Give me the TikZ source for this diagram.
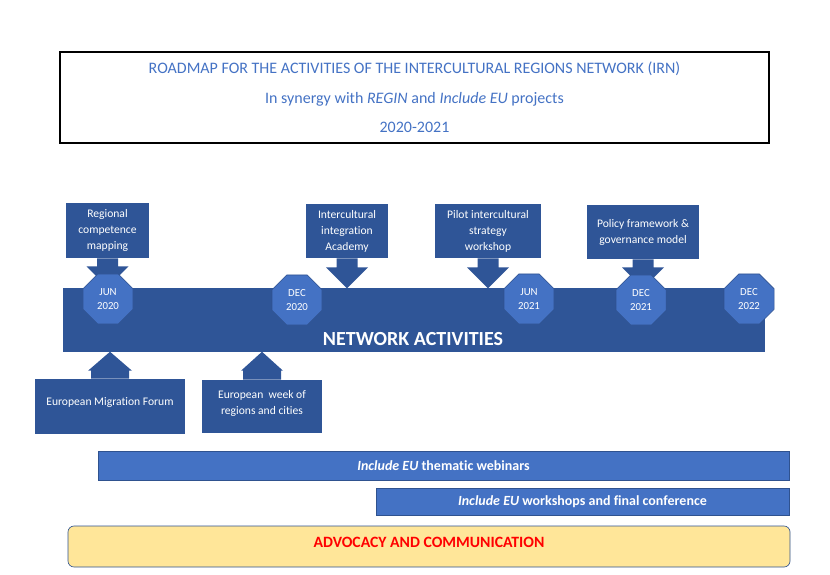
\documentclass[tikz,border=0pt]{standalone}
\usepackage{fontspec}
\setmainfont{Carlito}[Ligatures=NoCommon]
\usepackage{tikz}
\usetikzlibrary{shapes.geometric}

\definecolor{irnblue}{RGB}{47,85,151}
\definecolor{irnlight}{RGB}{68,114,196}
\definecolor{irnedge}{RGB}{47,82,143}
\definecolor{irnyellow}{RGB}{255,230,153}

\tikzset{
  callout/.style={fill=irnblue, text=white, align=center, inner sep=0pt,
    font=\fontsize{8.7}{12}\selectfont},
  datebox/.style={regular polygon, regular polygon sides=8, minimum size=40.6pt,
    inner sep=0pt, fill=irnlight, draw=irnedge, line width=0.4pt, text=white,
    align=center, font=\fontsize{8.1}{10.5}\selectfont},
  stripe/.style={fill=irnlight, draw=irnedge, line width=0.5pt, text=white,
    inner sep=0pt, font=\bfseries\fontsize{10.5}{12}\selectfont},
  blkarrow/.style={fill=irnblue}
}

\begin{document}
\begin{tikzpicture}[x=0.75pt,y=0.75pt,yscale=-1,xscale=1]
\useasboundingbox (0,0) rectangle (830,574);

%Shape: Rectangle [title]
\node[draw=black, line width=1.1pt, minimum width=531.75pt, minimum height=68.25pt,
  inner sep=0pt, align=center, text=irnlight, font=\fontsize{12}{22}\selectfont]
  (title) at (414.5,97.5)
  {ROADMAP FOR THE ACTIVITIES OF THE INTERCULTURAL REGIONS NETWORK (IRN)\\
   In synergy with \textit{REGIN} and \textit{Include EU} projects\\
   2020-2021};

%Shape: Rectangle [network bar]
\node[fill=irnblue, minimum width=526.5pt, minimum height=48pt, inner sep=0pt] (bar) at (414,320) {};
% Text Node
\node[text=white, inner sep=0pt, font=\bfseries\fontsize{15}{18}\selectfont] (barlabel) at (413,339) {NETWORK ACTIVITIES};

%Shape: Rectangle [callouts above]
\node[callout, minimum width=62.25pt, minimum height=41.25pt] (regional) at (107.5,230.5) {Regional\\competence\\mapping};
\node[callout, minimum width=61.5pt, minimum height=40.5pt] (academy) at (347,231) {Intercultural\\integration\\Academy};
\node[callout, minimum width=79.5pt, minimum height=40.5pt] (pilot) at (488,231) {Pilot intercultural\\strategy\\workshop};
\node[callout, minimum width=84pt, minimum height=40.5pt] (policy) at (643,232) {Policy framework \&\\governance model};

%Shape: Rectangle [callouts below]
\node[callout, minimum width=112.5pt, minimum height=41.25pt, text depth=7.5pt] (migration) at (110,406.5) {European Migration Forum};
\node[callout, minimum width=90pt, minimum height=39.75pt, text depth=6.5pt] (euweek) at (262,406.5) {European\ \ week of\\regions and cities};

%Shape: Block Arrow [down]
\fill[blkarrow] (regional.south) ++(-10.5,0) -- ++(0,8) -- ++(-10.5,0) -- ++(21,21) -- ++(21,-21) -- ++(-10.5,0) -- ++(0,-8) -- cycle;
\fill[blkarrow] (academy.south) ++(-10.5,0) -- ++(0,9) -- ++(-10.5,0) -- ++(21,21) -- ++(21,-21) -- ++(-10.5,0) -- ++(0,-9) -- cycle;
\fill[blkarrow] (pilot.south) ++(-10.5,0) -- ++(0,9) -- ++(-10.5,0) -- ++(21,21) -- ++(21,-21) -- ++(-10.5,0) -- ++(0,-9) -- cycle;
\fill[blkarrow] (policy.south) ++(-10.5,0) -- ++(0,8) -- ++(-10.5,0) -- ++(21,21) -- ++(21,-21) -- ++(-10.5,0) -- ++(0,-8) -- cycle;

%Shape: Block Arrow [up]
\fill[blkarrow] (migration.north) ++(-19,0) -- ++(0,-8) -- ++(-3,0) -- ++(22,-19) -- ++(22,19) -- ++(-3,0) -- ++(0,8) -- cycle;
\fill[blkarrow] (euweek.north) ++(-19,0) -- ++(0,-9) -- ++(-2,0) -- ++(21,-19) -- ++(21,19) -- ++(-2,0) -- ++(0,9) -- cycle;

%Shape: Octagon [dates]
\node[datebox] (jun20) at (108,299) {JUN\\2020};
\node[datebox] (dec20) at (297,300) {DEC\\2020};
\node[datebox] (jun21) at (529,299) {JUN\\2021};
\node[datebox] (dec21) at (641,300) {DEC\\2021};
\node[datebox] (dec22) at (749,299) {DEC\\2022};

%Shape: Rectangle [Include EU]
\node[stripe, minimum width=518.25pt, minimum height=21.75pt] (webinars) at (443.5,465.5) {\textit{Include EU} thematic webinars};
\node[stripe, minimum width=309.75pt, minimum height=20.25pt] (conference) at (582.5,501.5) {\textit{Include EU} workshops and final conference};

%Shape: Rounded Rectangle [advocacy]
\node[draw=irnedge, line width=0.5pt, fill=irnyellow, rounded corners=4.5pt, minimum width=541.5pt,
  minimum height=30.75pt, inner sep=0pt, text=red, text height=8pt, text depth=6pt,
  font=\bfseries\fontsize{11.8}{14}\selectfont] (advocacy) at (429,546.5) {ADVOCACY AND COMMUNICATION};

\end{tikzpicture}
\end{document}
